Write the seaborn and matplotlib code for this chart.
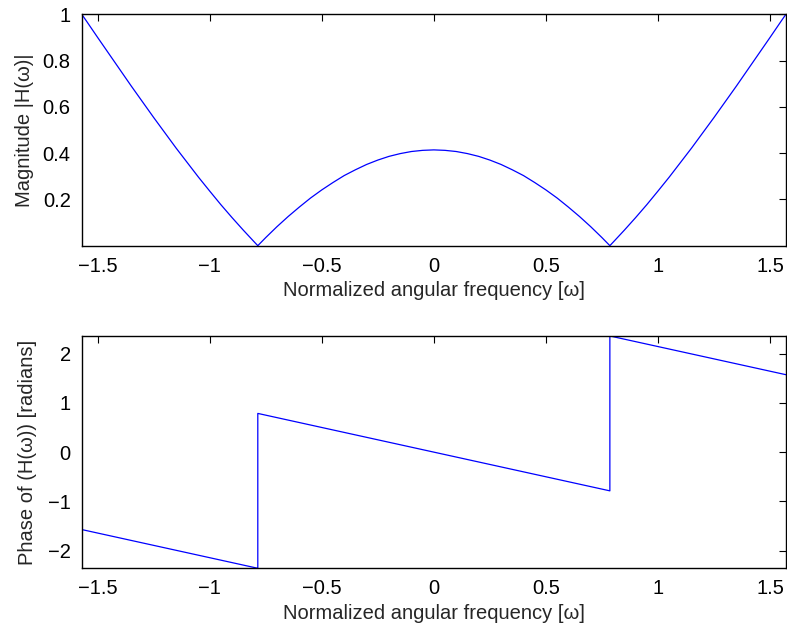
import numpy as np
import pandas as pd
import matplotlib
matplotlib.use("Agg")
import matplotlib.pyplot as plt
import seaborn as sns

# Magnitude response
mag_w = [-1.5708, -1.55, -1.5, -1.45, -1.4, -1.35, -1.3, -1.25, -1.2, -1.15, -1.1,
         -1.05, -1.0, -0.95, -0.9, -0.85, -0.8, -0.7854,
         -0.75, -0.7, -0.65, -0.6, -0.55, -0.5, -0.45, -0.4, -0.35, -0.3,
         -0.25, -0.2, -0.15, -0.1, -0.05, 0.0,
         0.05, 0.1, 0.15, 0.2, 0.25, 0.3, 0.35, 0.4, 0.45, 0.5, 0.55, 0.6,
         0.65, 0.7, 0.75, 0.7854,
         0.8, 0.85, 0.9, 0.95, 1.0, 1.05, 1.1, 1.15, 1.2, 1.25, 1.3, 1.35,
         1.4, 1.45, 1.5, 1.55, 1.5708]
mag_h = [1.000, 0.971, 0.900, 0.830, 0.760, 0.690, 0.622, 0.554, 0.488, 0.422, 0.359,
         0.296, 0.236, 0.177, 0.121, 0.067, 0.015, 0.000,
         0.035, 0.082, 0.126, 0.167, 0.206, 0.241, 0.273, 0.303, 0.328, 0.351,
         0.370, 0.386, 0.398, 0.407, 0.412, 0.414,
         0.412, 0.407, 0.398, 0.386, 0.370, 0.351, 0.328, 0.303, 0.273, 0.241, 0.206, 0.167,
         0.126, 0.082, 0.035, 0.000,
         0.015, 0.067, 0.121, 0.177, 0.236, 0.296, 0.359, 0.422, 0.488, 0.554, 0.622, 0.690,
         0.760, 0.830, 0.900, 0.971, 1.000]

# Phase response
ph_w = [-1.5708, -0.7854, -0.7854, 0.7854, 0.7854, 1.5708]
ph_v = [-1.5708, -2.3562, 0.7854, -0.7854, 2.3562, 1.5708]

x_ticks = [-1.5, -1, -0.5, 0, 0.5, 1, 1.5]
mag_yticks = [0.2, 0.4, 0.6, 0.8, 1]
ph_yticks = [-2, -1, 0, 1, 2]

sns.set_style("white")
plt.rcParams['font.family'] = ['Liberation Sans', 'DejaVu Sans']
plt.rcParams['axes.unicode_minus'] = True

FS = 14.5

fig = plt.figure(figsize=(7.87, 6.28), dpi=100)
ax1 = fig.add_axes([0.1039, 0.6088, 0.8947, 0.3684])
ax2 = fig.add_axes([0.1039, 0.0951, 0.8947, 0.3699])

df_mag = pd.DataFrame({"w": mag_w, "h": mag_h})
df_ph = pd.DataFrame({"w": ph_w, "p": ph_v})

sns.lineplot(data=df_mag, x="w", y="h", ax=ax1, color=(0, 0, 1), lw=0.9,
             sort=False, estimator=None)
sns.lineplot(data=df_ph, x="w", y="p", ax=ax2, color=(0, 0, 1), lw=0.9,
             sort=False, estimator=None)

def fmt(v):
    s = ("%g" % v)
    return s.replace("-", "\u2212")

for ax in (ax1, ax2):
    ax.set_xlim(-1.5708, 1.5708)
    ax.set_xticks(x_ticks)
    ax.set_xticklabels([fmt(v) for v in x_ticks])
    ax.tick_params(direction="in", length=5, width=0.8, top=True, right=True,
                   labelsize=FS, colors="black", pad=8)
    for sp in ax.spines.values():
        sp.set_visible(True)
        sp.set_color("black")
        sp.set_linewidth(1.0)
    ax.set_xlabel("Normalized angular frequency [\u03c9]", fontsize=FS, labelpad=4)

ax1.set_ylim(0, 1)
ax1.set_yticks(mag_yticks)
ax1.set_yticklabels([fmt(v) for v in mag_yticks])
ax1.set_ylabel("Magnitude |H(\u03c9)|", fontsize=FS, labelpad=6)

ax2.set_ylim(-2.3562, 2.3562)
ax2.set_yticks(ph_yticks)
ax2.set_yticklabels([fmt(v) for v in ph_yticks])
ax2.set_ylabel("Phase of (H(\u03c9)) [radians]", fontsize=FS, labelpad=8)

fig.savefig("out.png", dpi=100, facecolor="white")
